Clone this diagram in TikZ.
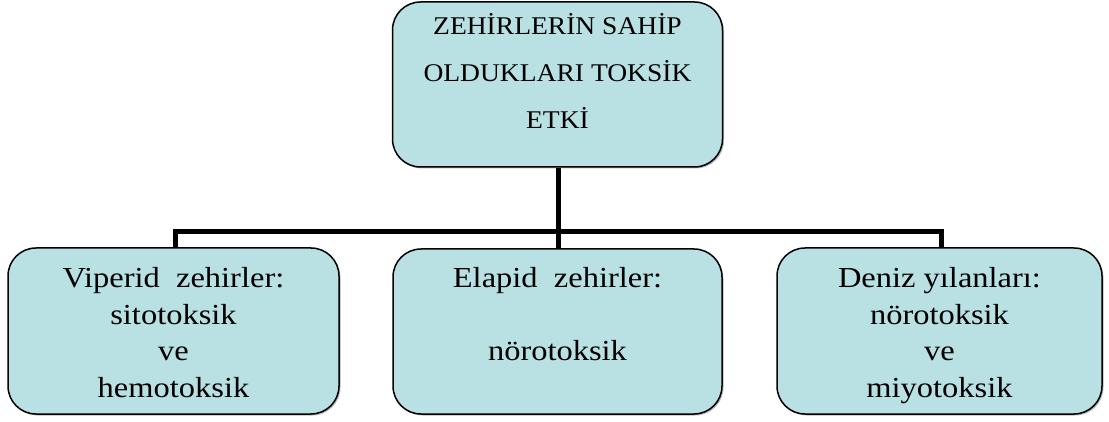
\documentclass[tikz,border=0pt]{standalone}
\usepackage{fontspec}
\setmainfont{Liberation Serif}
\newfontfamily\rootfont[FakeStretch=1.08]{Liberation Serif}
\newfontfamily\leaffont[FakeStretch=1.12]{Liberation Serif}
\usetikzlibrary{shadows}
\definecolor{boxfill}{HTML}{B9E0E3}
\tikzset{
  x=1pt, y=-1pt,
  box/.style={draw=black, line width=1.5pt, fill=boxfill, rounded corners=28pt,
    drop shadow={shadow xshift=1.5pt, shadow yshift=-1.5pt, fill=black!45, opacity=0.6},
    inner sep=0pt},
  toptext/.style={align=center, inner sep=0pt, font=\rootfont\fontsize{25.5}{47}\selectfont},
  subtext/.style={align=center, inner sep=0pt, font=\leaffont\fontsize{29}{36.5}\selectfont},
  bus/.style={line width=5pt, line cap=rect},
  stem/.style={line width=5pt}
}
\begin{document}
\begin{tikzpicture}
\useasboundingbox (0,0) rectangle (1109,422);
% root box and its caption
\node[box, minimum width=330pt, minimum height=165pt] (root) at (557.5,84.5) {};
\node[toptext] (rootlbl) at (557.5,72.5) {\strut ZEHİRLERİN SAHİP\\\strut OLDUKLARI TOKSİK\\\strut ETKİ};
% the three child boxes
\node[box, minimum width=331pt, minimum height=166pt] (vip) at (173.5,331) {};
\node[box, minimum width=329pt, minimum height=165pt] (ela) at (557.5,331.5) {};
\node[box, minimum width=325pt, minimum height=166pt] (den) at (939.5,331) {};
\node[subtext] (viplbl) at (173.5,335) {\strut Viperid\ \ zehirler:\\\strut sitotoksik\\\strut ve\\\strut hemotoksik};
\node[subtext] (elalbl) at (557.5,335) {\strut Elapid\ \ zehirler:\\\strut\\\strut nörotoksik\\\strut};
\node[subtext] (denlbl) at (939.5,335) {\strut Deniz yılanları:\\\strut nörotoksik\\\strut ve\\\strut miyotoksik};
% tree connectors
\coordinate (busL) at (175,232);
\coordinate (busM) at (558,232);
\coordinate (busR) at (941,232);
\draw[bus] (busL) -- (busR);
\draw[stem] (root.south -| busM) -- (busM);
\draw[stem] (busM) -- (ela.north -| busM);
\draw[stem] (busL) -- (vip.north -| busL);
\draw[stem] (busR) -- (den.north -| busR);
\end{tikzpicture}
\end{document}
